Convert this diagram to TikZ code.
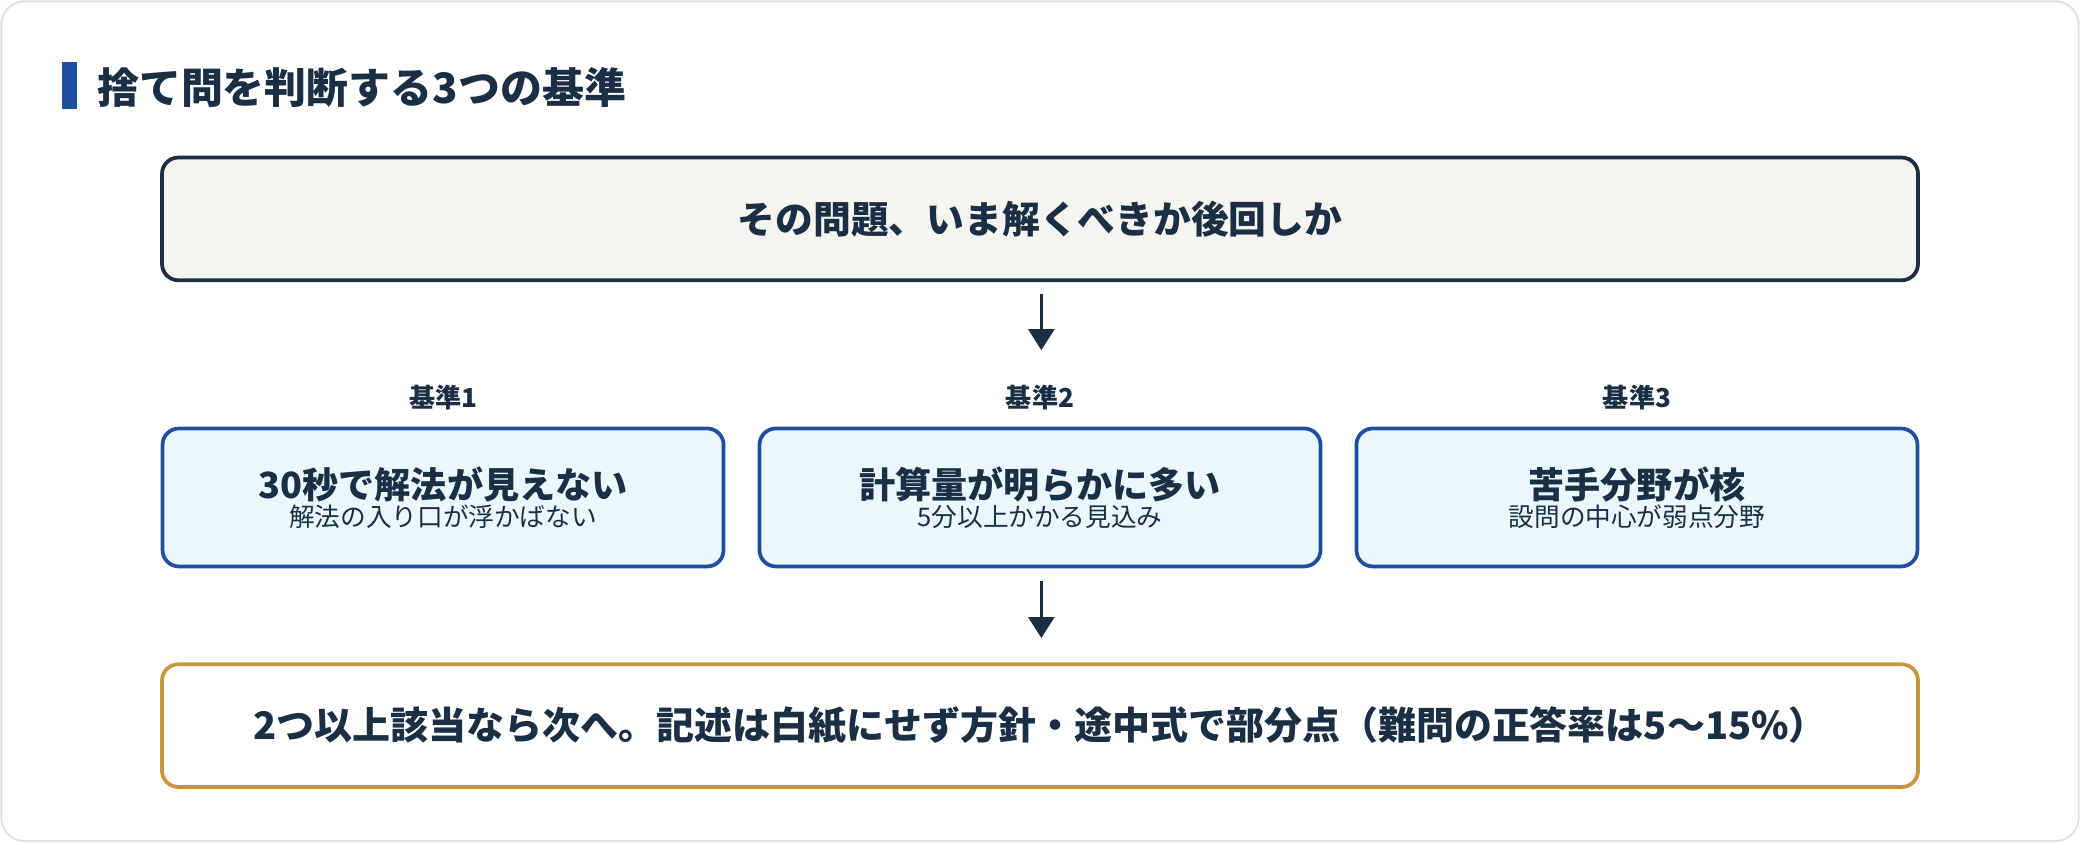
\documentclass[tikz,border=0pt]{standalone}
\usepackage{fontspec}
\setmainfont{Noto Sans CJK JP}
\usetikzlibrary{arrows.meta}
\definecolor{navy}{HTML}{1A2E44}
\definecolor{blueb}{HTML}{1E4E9C}
\definecolor{gold}{HTML}{C8963A}
\definecolor{beige}{HTML}{F5F4EF}
\definecolor{ice}{HTML}{EAF7FC}
\begin{document}
\begin{tikzpicture}[x=0.02cm,y=-0.02cm,
  box/.style={draw, line width=1.6pt, rounded corners=7pt, minimum height=1.85cm, text=navy},
  crit/.style={box, draw=blueb, fill=ice, minimum width=8.46cm, minimum height=2.08cm, align=center},
  lab/.style={font=\bfseries\fontsize{11.2}{13}\selectfont, text=navy},
  arr/.style={-{Triangle[length=9pt,width=11pt]}, line width=1.5pt, draw=navy}]
\draw[draw=black!12, fill=white, rounded corners=10pt, line width=0.8pt] (1,1) rectangle (1567,634);
\useasboundingbox (0,0) rectangle (1568,635);
\fill[blueb] (47,47) rectangle (58,82);
\node[anchor=west, text=navy, font=\bfseries\fontsize{18}{21}\selectfont] (title) at (67,66) {捨て問を判断する3つの基準};
\node[box, draw=navy, fill=beige, minimum width=26.48cm, font=\bfseries\fontsize{16.2}{19}\selectfont] (top) at (784,165) {その問題、いま解くべきか後回しか};
\node[lab] (l1) at (334,300) {基準1};
\node[lab] (l2) at (784,300) {基準2};
\node[lab] (l3) at (1234,300) {基準3};
\node[crit] (c1) at (334,375) {{\bfseries\fontsize{15.5}{18}\selectfont 30秒で解法が見えない}\\[0pt]{\fontsize{11}{13}\selectfont 解法の入り口が浮かばない}};
\node[crit] (c2) at (784,375) {{\bfseries\fontsize{15.5}{18}\selectfont 計算量が明らかに多い}\\[0pt]{\fontsize{11}{13}\selectfont 5分以上かかる見込み}};
\node[crit] (c3) at (1234,375) {{\bfseries\fontsize{15.5}{18}\selectfont 苦手分野が核}\\[0pt]{\fontsize{11}{13}\selectfont 設問の中心が弱点分野}};
\node[box, draw=gold, fill=white, minimum width=26.48cm, font=\bfseries\fontsize{16.3}{19}\selectfont] (bot) at (784,547) {2つ以上該当なら次へ。記述は白紙にせず方針・途中式で部分点（難問の正答率は5〜15\%）};
\coordinate (a1) at (785,222);
\coordinate (a2) at (785,264);
\coordinate (b1) at (785,438);
\coordinate (b2) at (785,481);
\draw[arr] (a1) -- (a2);
\draw[arr] (b1) -- (b2);
\end{tikzpicture}
\end{document}
